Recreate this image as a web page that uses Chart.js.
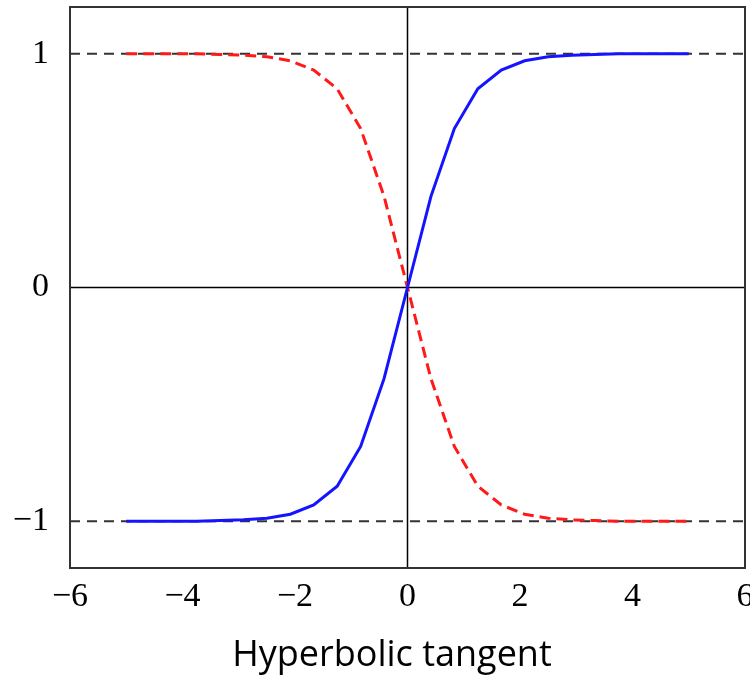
<!DOCTYPE html>
<html>
<head>
<meta charset="utf-8">
<script src="https://cdn.jsdelivr.net/npm/chart.js@4"></script>
<style>
    html, body { margin: 0; padding: 0; background: #ffffff; overflow: hidden; }
    #wrap { position: relative; width: 750px; height: 681px; }
    #plot { position: absolute; left: 0; top: 0; width: 750px; height: 630px; }
    #caption {
        position: absolute; left: 0; top: 633px; width: 750px; box-sizing: border-box;
        padding-left: 34px; text-align: center; white-space: nowrap;
        font-family: 'Open Sans', sans-serif; font-size: 36px; line-height: 40px; color: #000000;
    }
</style>
</head>
<body>
<div id="wrap">
    <div id="plot"><canvas id="tanhChart"></canvas></div>
    <div id="caption"></div>
</div>
<script>
// Sample positions of both curves
const xValues = [-5, -4.583, -4.167, -3.75, -3.333, -2.917, -2.5, -2.083, -1.667, -1.25, -0.833, -0.417,
    0, 0.417, 0.833, 1.25, 1.667, 2.083, 2.5, 2.917, 3.333, 3.75, 4.167, 4.583, 5];

// Blue solid curve (tanh)
const tanhValues = [-1, -1, -1, -1, -0.997, -0.994, -0.987, -0.97, -0.93, -0.85, -0.68, -0.39,
    0, 0.39, 0.68, 0.85, 0.93, 0.97, 0.987, 0.994, 0.997, 1, 1, 1, 1];

// Red dashed curve (mirror)
const mirrorValues = [1, 1, 1, 1, 0.997, 0.994, 0.987, 0.97, 0.93, 0.85, 0.68, 0.39,
    0, -0.39, -0.68, -0.85, -0.93, -0.97, -0.987, -0.994, -0.997, -1, -1, -1, -1];

// Dashed asymptotes and axis extents
const asymptotes = [1, -1];
const xRange = [-6, 6];
const yRange = [-1.2, 1.2];
const xTicks = [-6, -4, -2, 0, 2, 4, 6];
const yTicks = [-1, 0, 1];
const caption = 'Hyperbolic tangent';

document.getElementById('caption').textContent = caption;


function toPoints(xs, ys) {
    return xs.map((x, i) => ({ x: x, y: ys[i] }));
}

function tickText(v) {
    return v < 0 ? '\u2212' + Math.abs(v) : String(v);
}

// Draws the box round the plot area
const frame = {
    id: 'frame',
    afterDraw(chart) {
        const { ctx, chartArea } = chart;
        ctx.save();
        ctx.strokeStyle = '#333333';
        ctx.lineWidth = 2;
        ctx.strokeRect(chartArea.left, chartArea.top,
            chartArea.right - chartArea.left, chartArea.bottom - chartArea.top);
        ctx.restore();
    }
};

const datasets = [];

// Blue tanh curve
datasets.push({
    data: toPoints(xValues, tanhValues),
    borderColor: '#1414ff',
    borderWidth: 3,
    order: 1
});

// Red mirrored curve
datasets.push({
    data: toPoints(xValues, mirrorValues),
    borderColor: '#ff1a1a',
    borderWidth: 3,
    borderDash: [11, 6],
    order: 2
});

// Horizontal dashed lines
for (const level of asymptotes) {
    datasets.push({
        data: [{ x: xRange[0], y: level }, { x: xRange[1], y: level }],
        borderColor: '#333333',
        borderWidth: 2,
        borderDash: [10, 7],
        order: 3
    });
}

// Axis lines through the origin
datasets.push({
    data: [{ x: xRange[0], y: 0 }, { x: xRange[1], y: 0 }],
    borderColor: '#000000',
    borderWidth: 1.5,
    order: 4
});
datasets.push({
    data: [{ x: 0, y: yRange[0] }, { x: 0, y: yRange[1] }],
    borderColor: '#000000',
    borderWidth: 1.5,
    order: 4
});

const tickFont = { family: "'Liberation Serif', 'DejaVu Serif', serif", size: 34 };

new Chart(document.getElementById('tanhChart').getContext('2d'), {
    type: 'line',
    data: { datasets: datasets },
    plugins: [frame],
    options: {
        responsive: true,
        maintainAspectRatio: false,
        animation: false,
        elements: {
            point: { radius: 0 },
            line: { tension: 0, fill: false }
        },
        layout: {
            autoPadding: false,
            padding: { top: 7, right: 5, left: 0, bottom: 0 }
        },
        plugins: {
            legend: { display: false },
            tooltip: { enabled: false },
            title: { display: false }
        },
        scales: {
            x: {
                type: 'linear',
                min: xRange[0],
                max: xRange[1],
                grid: { display: false },
                border: { display: false },
                afterBuildTicks: scale => { scale.ticks = xTicks.map(v => ({ value: v })); },
                afterFit: scale => {
                    scale.height = 62;
                    scale.paddingLeft = 0;
                    scale.paddingRight = 0;
                },
                ticks: {
                    color: '#000000',
                    font: tickFont,
                    padding: 1,
                    maxRotation: 0,
                    callback: v => tickText(v)
                }
            },
            y: {
                type: 'linear',
                min: yRange[0],
                max: yRange[1],
                grid: { display: false },
                border: { display: false },
                afterBuildTicks: scale => { scale.ticks = yTicks.map(v => ({ value: v })); },
                afterFit: scale => {
                    scale.width = 70;
                    scale.paddingTop = 0;
                    scale.paddingBottom = 0;
                },
                ticks: {
                    color: '#000000',
                    font: tickFont,
                    padding: 13,
                    callback: v => tickText(v)
                }
            }
        }
    }
});
</script>
</body>
</html>
